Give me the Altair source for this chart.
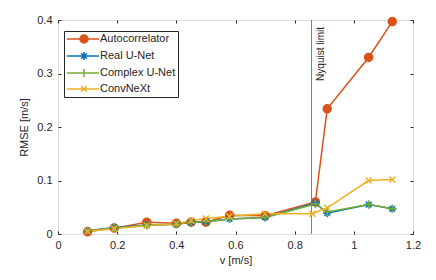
import altair as alt
import pandas as pd

series = ["Autocorrelator", "Real U-Net", "Complex U-Net", "ConvNeXt"]
colors = ["#D95319", "#0072BD", "#77AC30", "#EDB120"]

v_common = [0.10, 0.19, 0.30, 0.40, 0.45, 0.50, 0.58, 0.70, 0.87, 0.91, 1.05, 1.13]
v_convnext = [0.10, 0.19, 0.30, 0.40, 0.45, 0.50, 0.58, 0.70, 0.86, 0.91, 1.05, 1.13]

rmse_auto = [0.004, 0.011, 0.022, 0.020, 0.022, 0.022, 0.035, 0.034, 0.060, 0.234, 0.330, 0.397]
rmse_real = [0.006, 0.012, 0.017, 0.018, 0.022, 0.023, 0.028, 0.031, 0.058, 0.039, 0.055, 0.047]
rmse_complex = [0.006, 0.011, 0.016, 0.018, 0.022, 0.023, 0.028, 0.031, 0.056, 0.041, 0.055, 0.047]
rmse_convnext = [0.005, 0.010, 0.016, 0.019, 0.025, 0.029, 0.033, 0.038, 0.038, 0.049, 0.100, 0.102]

nyquist_v = [0.857]
nyquist_label = ["Nyquist limit"]

x_ticks = [0, 0.2, 0.4, 0.6, 0.8, 1.0, 1.2]
y_ticks = [0, 0.1, 0.2, 0.3, 0.4]

rows = []
for name, xs, ys in [
    (series[0], v_common, rmse_auto),
    (series[1], v_common, rmse_real),
    (series[2], v_common, rmse_complex),
    (series[3], v_convnext, rmse_convnext),
]:
    for i, (x, y) in enumerate(zip(xs, ys)):
        rows.append({"series": name, "v": x, "rmse": y, "order": i})
df = pd.DataFrame(rows)

# marker paths for the plot
marker_paths = [
    "M1,0A1,1 0 1,1 -1,0A1,1 0 1,1 1,0Z",
    "M-1,0L1,0M0,-1L0,1M-0.7,-0.7L0.7,0.7M-0.7,0.7L0.7,-0.7",
    "M-1,0L1,0M0,-1L0,1",
    "M-0.75,-0.75L0.75,0.75M-0.75,0.75L0.75,-0.75",
]
# legend symbols: line + marker (marker centred at 2.4)
leg_line = "M-1,0L5.4,0"
legend_paths = [
    leg_line + "M3.2,0A0.8,0.8 0 1,1 1.6,0A0.8,0.8 0 1,1 3.2,0Z",
    leg_line + "M2.4,-0.8L2.4,0.8M1.84,-0.56L2.96,0.56M1.84,0.56L2.96,-0.56",
    leg_line + "M2.4,-0.8L2.4,0.8",
    leg_line + "M1.84,-0.56L2.96,0.56M1.84,0.56L2.96,-0.56",
]

FONT = "Liberation Sans"
xdom = [0, 1.2]
ydom = [0, 0.4]

xs_main = alt.Scale(domain=xdom, nice=False, zero=False)
ys_main = alt.Scale(domain=ydom, nice=False, zero=False)

x_axis = alt.Axis(values=x_ticks, format="~g", title="v [m/s]", grid=False, domain=False,
                  offset=-3, tickSize=3, labelPadding=5, tickColor="#262626",
                  labelColor="#262626", titleColor="#262626", labelFontSize=11,
                  titleFontSize=11, titleFontWeight="normal", labelFont=FONT, titleFont=FONT,
                  titlePadding=4, labelFlush=False)
y_axis = alt.Axis(values=y_ticks, format="~g", title="RMSE [m/s]", grid=False, domain=False,
                  offset=-3, tickSize=3, labelPadding=6, tickColor="#262626",
                  labelColor="#262626", titleColor="#262626", labelFontSize=11,
                  titleFontSize=11, titleFontWeight="normal", labelFont=FONT, titleFont=FONT,
                  titlePadding=7, labelFlush=False)

legend = alt.Legend(
    title=None, orient="none", legendX=6, legendY=11, padding=2,
    strokeColor="#262626", fillColor="white", labelFont=FONT, labelFontSize=11,
    labelColor="#262626", symbolSize=100, symbolStrokeWidth=1.5, rowPadding=3,
    labelOffset=22, symbolOffset=0, symbolOpacity=1,
    labelExpr="datum.label + '   '",
)

lines = alt.Chart(df).mark_line(strokeWidth=1.5).encode(
    x=alt.X("v:Q", scale=xs_main, axis=x_axis),
    y=alt.Y("rmse:Q", scale=ys_main, axis=y_axis),
    color=alt.Color("series:N", scale=alt.Scale(domain=series, range=colors), legend=None),
    detail="series:N",
    order="order:Q",
)

points = alt.Chart(df).mark_point(filled=False, size=64, strokeWidth=1.5, opacity=1).encode(
    x=alt.X("v:Q", scale=xs_main, axis=x_axis),
    y=alt.Y("rmse:Q", scale=ys_main, axis=y_axis),
    color=alt.Color("series:N", scale=alt.Scale(domain=series, range=colors), legend=None),
    fill=alt.Fill("series:N", scale=alt.Scale(domain=series, range=colors), legend=None),
    shape=alt.Shape("series:N", scale=alt.Scale(domain=series, range=marker_paths), legend=None),
)

# legend-only layer (no rows drawn; entries come from the explicit domains)
legend_layer = alt.Chart(df).transform_filter("false").mark_point(
    filled=False, strokeWidth=1.5, opacity=1
).encode(
    x=alt.X("v:Q", scale=xs_main, axis=x_axis),
    y=alt.Y("rmse:Q", scale=ys_main, axis=y_axis),
    color=alt.Color("series:N", scale=alt.Scale(domain=series, range=colors), legend=legend),
    fill=alt.Fill("series:N", scale=alt.Scale(domain=series, range=colors), legend=legend),
    shape=alt.Shape("series:N", scale=alt.Scale(domain=series, range=legend_paths), legend=legend),
)

nyq_df = pd.DataFrame({"v": nyquist_v, "label": nyquist_label, "rmse": [ydom[1]]})

rule = alt.Chart(nyq_df).mark_rule(color="#7f7f7f", strokeWidth=1).encode(
    x=alt.X("v:Q", scale=xs_main, axis=x_axis),
)

text = alt.Chart(nyq_df).mark_text(
    angle=270, align="right", baseline="top", dx=-7, dy=4, fontSize=10,
    font=FONT, color="#262626",
).encode(
    x=alt.X("v:Q", scale=xs_main, axis=x_axis),
    y=alt.Y("rmse:Q", scale=ys_main, axis=y_axis),
    text="label:N",
)

# mirrored (top/right) axes with inward ticks, no labels
frame_axes = alt.Chart(nyq_df).mark_point(opacity=0).encode(
    x=alt.X("v:Q", scale=alt.Scale(domain=xdom, nice=False, zero=False),
            axis=alt.Axis(orient="top", values=x_ticks, labels=False, title=None, grid=False,
                          domain=False, offset=-3, tickSize=3, tickColor="#262626")),
    y=alt.Y("rmse:Q", scale=alt.Scale(domain=ydom, nice=False, zero=False),
            axis=alt.Axis(orient="right", values=y_ticks, labels=False, title=None, grid=False,
                          domain=False, offset=-3, tickSize=3, tickColor="#262626")),
)

main = alt.layer(rule, lines, points, text, legend_layer).resolve_scale(
    color="independent", fill="independent", shape="independent"
)

chart = alt.layer(main, frame_axes).resolve_scale(
    x="independent", y="independent"
).properties(
    width=355, height=214,
    autosize=alt.AutoSizeParams(type="none"),
    padding={"left": 50, "top": 12, "right": 15, "bottom": 38},
).configure_view(
    stroke="#262626", strokeWidth=0.8
).configure(background="white")

chart.save("out.html", embed_options={"renderer": "svg", "actions": False})
